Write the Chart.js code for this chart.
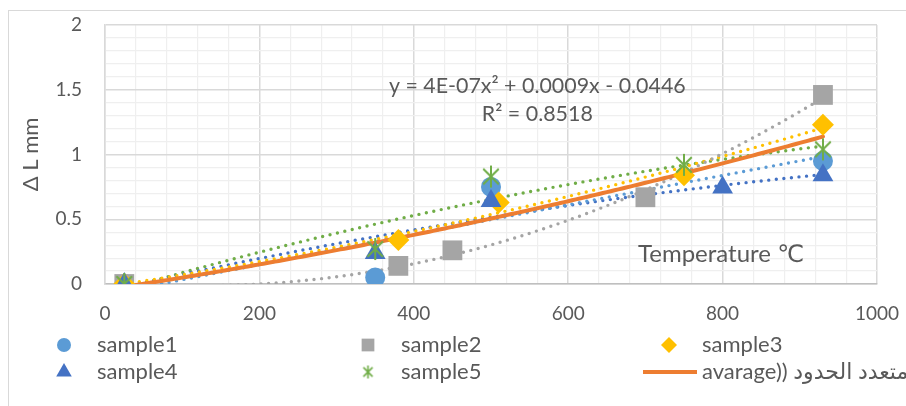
<!DOCTYPE html>
<html>
<head>
<meta charset="utf-8">
<script src="https://cdn.jsdelivr.net/npm/chart.js@4/dist/chart.umd.min.js"></script>
<style>
  html, body { margin: 0; padding: 0; background: #fff; overflow: hidden; }
  #wrap { width: 906px; height: 406px; }
</style>
</head>
<body>
<div id="wrap"><canvas id="dl-chart" width="906" height="406"></canvas></div>
<script>
(function () {
	'use strict';

	// measured elongation (mm) against temperature (°C)
	var T1 = [25, 350, 500, 930],       DL1 = [0, 0.05, 0.75, 0.95];
	var T2 = [25, 380, 450, 700, 930],  DL2 = [0, 0.14, 0.26, 0.67, 1.46];
	var T3 = [25, 380, 510, 750, 930],  DL3 = [0, 0.34, 0.63, 0.84, 1.23];
	var T4 = [25, 350, 500, 800, 930],  DL4 = [0, 0.24, 0.64, 0.745, 0.84];
	var T5 = [25, 350, 500, 750, 930],  DL5 = [0, 0.27, 0.83, 0.92, 1.04];

	// polynomial trendline of the average, as printed on the chart
	var AVG_COEF = [-0.0446, 0.0009, 4e-7];
	var AVG_RANGE = [25, 930];
	var AVG_R2 = '0.8518';

	var X_LABELS = [0, 200, 400, 600, 800, 1000];
	var Y_LABELS = [0, 0.5, 1, 1.5, 2];

	var C1 = '#5B9BD5', C2 = '#A5A5A5', C3 = '#FFC000', C4 = '#4472C4', C5 = '#70AD47', AVG = '#ED7D31';
	var TEXT = '#595959';
	var FONT = 'Lato, "DejaVu Sans", sans-serif';

	// least squares fit of y = c0 + c1 x + c2 x^2
	function polyFit(xs, ys) {
		var s = [0, 0, 0, 0, 0], t = [0, 0, 0];
		for (var i = 0; i < xs.length; i++) {
			var p = 1;
			for (var k = 0; k < 5; k++) { s[k] += p; if (k < 3) t[k] += p * ys[i]; p *= xs[i]; }
		}
		var m = [[s[0], s[1], s[2], t[0]], [s[1], s[2], s[3], t[1]], [s[2], s[3], s[4], t[2]]];
		for (var c = 0; c < 3; c++) {
			for (var r = c + 1; r < 3; r++) {
				var f = m[r][c] / m[c][c];
				for (var j = c; j < 4; j++) m[r][j] -= f * m[c][j];
			}
		}
		var out = [0, 0, 0];
		for (var r2 = 2; r2 >= 0; r2--) {
			var v = m[r2][3];
			for (var j2 = r2 + 1; j2 < 3; j2++) v -= m[r2][j2] * out[j2];
			out[r2] = v / m[r2][r2];
		}
		return out;
	}

	function curve(coef, x0, x1) {
		var pts = [];
		for (var x = x0; x <= x1 + 1e-9; x += 5) pts.push({ x: x, y: coef[0] + coef[1] * x + coef[2] * x * x });
		return pts;
	}

	// asterisk marker: X plus a vertical bar
	function starImage(size, color, lw) {
		var cv = document.createElement('canvas');
		cv.width = size; cv.height = size;
		var g = cv.getContext('2d'), h = size / 2, r = h - 1;
		g.strokeStyle = color; g.lineWidth = lw; g.lineCap = 'butt';
		g.beginPath();
		g.moveTo(h, h - r); g.lineTo(h, h + r);
		var d = r * Math.SQRT1_2;
		g.moveTo(h - d, h - d); g.lineTo(h + d, h + d);
		g.moveTo(h + d, h - d); g.lineTo(h - d, h + d);
		g.stroke();
		return cv;
	}
	var STAR = starImage(24, C5, 2);
	var STAR_SMALL = starImage(15, C5, 1.6);

	function pts(xs, ys) { return xs.map(function (x, i) { return { x: x, y: ys[i] }; }); }

	function markers(label, xs, ys, color, style, radius, order) {
		return { label: label, data: pts(xs, ys), backgroundColor: color, borderColor: color,
			pointStyle: style, pointRadius: radius, pointHoverRadius: radius, pointBorderWidth: 0,
			showLine: false, order: order };
	}

	function trend(coef, x0, x1, color, solid) {
		return { data: curve(coef, x0, x1), showLine: true, borderColor: color,
			borderWidth: solid ? 4 : 3.4, borderDash: solid ? [] : [0, 7.6], borderCapStyle: 'round',
			pointRadius: 0, pointHoverRadius: 0, tension: 0, order: solid ? 10 : 20, clip: 0 };
	}

	var datasets = [
		trend(polyFit(T1, DL1), T1[0], T1[T1.length - 1], C1),
		trend(polyFit(T2, DL2), T2[0], T2[T2.length - 1], C2),
		trend(polyFit(T3, DL3), T3[0], T3[T3.length - 1], C3),
		trend(polyFit(T4, DL4), T4[0], T4[T4.length - 1], C4),
		trend(polyFit(T5, DL5), T5[0], T5[T5.length - 1], C5),
		trend(AVG_COEF, AVG_RANGE[0], AVG_RANGE[1], AVG, true),
		markers('sample1', T1, DL1, C1, 'circle', 10, 5),
		markers('sample2', T2, DL2, C2, 'rect', 14, 4),
		markers('sample3', T3, DL3, C3, 'rectRot', 11, 3),
		markers('sample4', T4, DL4, C4, 'triangle', 12, 2),
		markers('sample5', T5, DL5, C5, STAR, 12, 1)
	];

	var legendItems = [
		{ text: 'sample1', color: C1, style: 'circle', r: 7 },
		{ text: 'sample2', color: C2, style: 'rect', r: 9 },
		{ text: 'sample3', color: C3, style: 'rectRot', r: 8 },
		{ text: 'sample4', color: C4, style: 'triangle', r: 9 },
		{ text: 'sample5', color: C5, style: STAR_SMALL, r: 7 },
		{ text: 'avarage)) متعدد الحدود', color: AVG, line: true }
	];

	function isLabel(list, v) {
		for (var i = 0; i < list.length; i++) if (Math.abs(list[i] - v) < 1e-6) return true;
		return false;
	}

	// fixed axis sizes, no extra margin for edge labels
	function fitX(s) { s.height = 122; s.paddingLeft = 0; s.paddingRight = 0; s.paddingTop = 0; s.paddingBottom = 0; }
	function fitY(s) { s.width = 105; s.paddingLeft = 0; s.paddingRight = 0; s.paddingTop = 0; s.paddingBottom = 0; }

	var chrome = {
		id: 'chrome',
		beforeDraw: function (chart) {
			var c = chart.ctx;
			c.save();
			c.fillStyle = '#fff';
			c.fillRect(0, 0, chart.width, chart.height);
			c.strokeStyle = '#d9d9d9';
			c.lineWidth = 1;
			c.strokeRect(8.5, 10.5, chart.width + 10, chart.height + 10);
			c.restore();
		},
		afterDraw: function (chart) {
			var c = chart.ctx, a = chart.chartArea, xs = chart.scales.x, ys = chart.scales.y;
			c.save();
			c.fillStyle = TEXT;
			c.textBaseline = 'middle';
			c.direction = 'ltr';

			// axis title
			c.save();
			c.translate(31, (a.top + a.bottom) / 2);
			c.rotate(-Math.PI / 2);
			c.textAlign = 'center';
			c.font = '22px ' + FONT;
			c.fillText('Δ L mm', 0, 0);
			c.restore();

			c.textAlign = 'center';
			c.font = '24px ' + FONT;
			c.fillText('Temperature ℃', xs.getPixelForValue(798), ys.getPixelForValue(0.23));

			// trendline equation
			c.font = '21.4px ' + FONT;
			c.fillText('y = 4E-07x² + 0.0009x - 0.0446', xs.getPixelForValue(560), ys.getPixelForValue(1.53));
			c.fillText('R² = ' + AVG_R2, xs.getPixelForValue(560), ys.getPixelForValue(1.31));

			// legend, three columns
			var colX = [64, 368, 669], rowY = [a.bottom + 61, a.bottom + 88];
			c.textAlign = 'left';
			c.font = '22px ' + FONT;
			legendItems.forEach(function (it, i) {
				var x = colX[i % 3], y = rowY[Math.floor(i / 3)];
				c.fillStyle = it.color;
				c.strokeStyle = it.color;
				if (it.line) {
					c.lineWidth = 4;
					c.lineCap = 'butt';
					c.beginPath();
					c.moveTo(x - 26, y);
					c.lineTo(x + 28, y);
					c.stroke();
				} else {
					Chart.helpers.drawPoint(c, { pointStyle: it.style, radius: it.r, rotation: 0, borderWidth: 0 }, x, y);
				}
				c.fillStyle = TEXT;
				c.fillText(it.text, x + 33, y);
			});
			c.restore();
		}
	};

	new Chart(document.getElementById('dl-chart').getContext('2d'), {
		type: 'scatter',
		data: { datasets: datasets },
		options: {
			responsive: false,
			animation: false,
			events: [],
			layout: { padding: { left: 0, top: 25, right: 29, bottom: 0 } },
			plugins: { legend: { display: false }, tooltip: { enabled: false } },
			scales: {
				x: {
					type: 'linear', min: 0, max: 1000,
					afterFit: fitX,
					ticks: {
						stepSize: 40, autoSkip: false, maxRotation: 0, padding: 18,
						color: TEXT, font: { size: 19, family: FONT },
						callback: function (v) { return isLabel(X_LABELS, v) ? String(Math.round(v)) : ''; }
					},
					grid: {
						drawTicks: false,
						color: function (ctx) { return isLabel(X_LABELS, ctx.tick.value) ? '#d9d9d9' : '#efefef'; },
						lineWidth: function (ctx) { return isLabel(X_LABELS, ctx.tick.value) ? 1.5 : 1.2; }
					},
					border: { color: '#bfbfbf', width: 1.5 }
				},
				y: {
					type: 'linear', min: 0, max: 2,
					afterFit: fitY,
					ticks: {
						stepSize: 0.1, autoSkip: false, padding: 23,
						color: TEXT, font: { size: 19, family: FONT },
						callback: function (v) { return isLabel(Y_LABELS, v) ? String(Math.round(v * 10) / 10) : ''; }
					},
					grid: {
						drawTicks: false,
						color: function (ctx) { return isLabel(Y_LABELS, ctx.tick.value) ? '#d9d9d9' : '#efefef'; },
						lineWidth: function (ctx) { return isLabel(Y_LABELS, ctx.tick.value) ? 1.5 : 1.2; }
					},
					border: { color: '#d9d9d9', width: 1.5 }
				}
			}
		},
		plugins: [chrome]
	});
}());
</script>
</body>
</html>
